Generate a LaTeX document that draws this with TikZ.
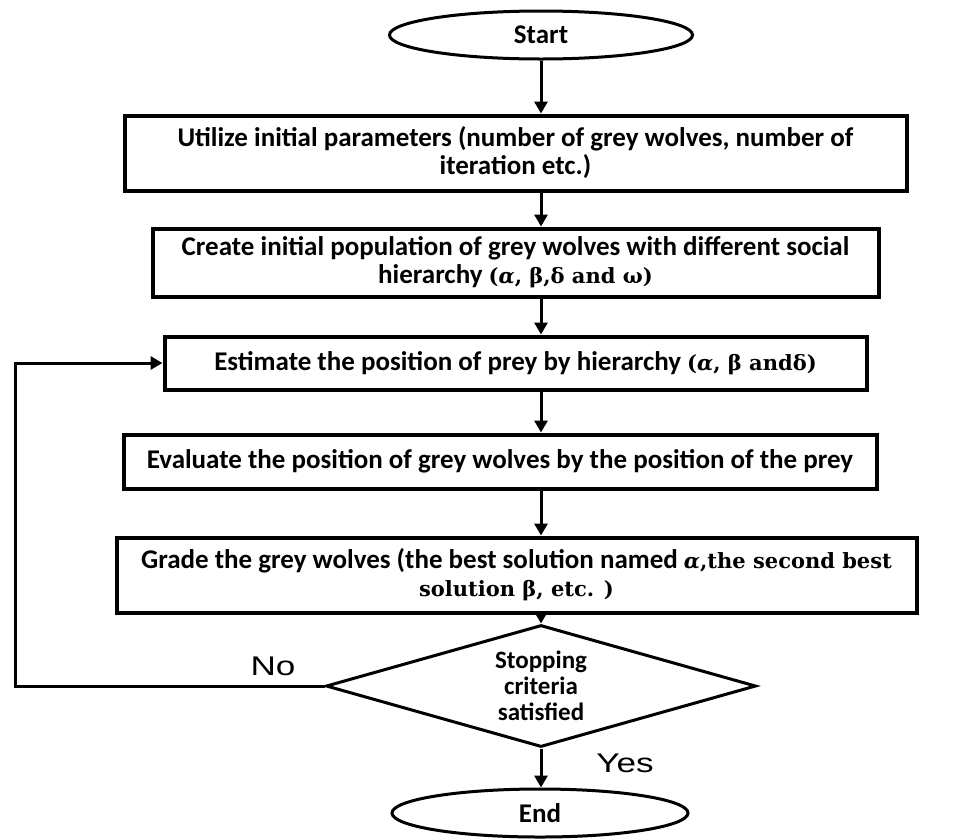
\documentclass[tikz,border=0pt]{standalone}
\usepackage{fontspec}
\setmainfont{Carlito}
\newfontfamily\srf{DejaVu Serif}
\newfontfamily\lab{Liberation Sans}
\usetikzlibrary{arrows.meta,shapes.geometric}
\newcommand{\sfr}{\srf\fontsize{21}{28}\selectfont}
\begin{document}
\begin{tikzpicture}[x=1pt,y=-1pt,
  every node/.style={font=\fontsize{27}{28}\selectfont\bfseries, align=center, inner sep=0pt},
  stepbox/.style={draw, line width=4pt, rectangle},
  term/.style={draw, line width=3pt, ellipse},
  decide/.style={draw, line width=3pt, diamond},
  arr/.style={line width=3pt, -{Triangle[width=13pt,length=12pt]}},
  lbl/.style={font=\fontsize{27}{28}\selectfont\lab\mdseries}]
\useasboundingbox (0,0) rectangle (963,839);
\node[term, minimum width=303pt, minimum height=48pt] (start) at (541,35) {Start};
\node[stepbox, minimum width=782pt, minimum height=75pt] (b1) at (515.5,153)
  {Utilize initial parameters (number of grey wolves, number of\\iteration etc.)};
\node[stepbox, minimum width=726pt, minimum height=68pt] (b2) at (515.5,262.5)
  {Create initial population of grey wolves with different social\\hierarchy {\sfr(\textit{α}, β,δ and ω)}};
\node[stepbox, minimum width=702pt, minimum height=53pt] (b3) at (515.5,363)
  {Estimate the position of prey by hierarchy {\sfr(\textit{α}, β andδ)}};
\node[stepbox, minimum width=753pt, minimum height=54pt] (b4) at (500,461.5)
  {Evaluate the position of grey wolves by the position of the prey};
\node[stepbox, minimum width=800pt, minimum height=75pt] (b5) at (516.5,575)
  {Grade the grey wolves (the best solution named {\sfr\textit{α},the second best}\\{\sfr solution β, etc. )}};
\node[decide, minimum width=430pt, minimum height=122pt, aspect=3.5, font=\fontsize{25}{26}\selectfont\bfseries] (dia) at (541,686)
  {Stopping\\criteria\\satisfied};
\node[term, minimum width=296pt, minimum height=48pt] (end) at (540,813) {End};
\coordinate (lp) at (15,686);
\node[lbl] (no) at (273,666) {\scalebox{1.3}[1]{No}};
\node[lbl] (yes) at (625,763) {\scalebox{1.3}[1]{Yes}};
\draw[arr] (start.south) -- (start.south |- b1.north);
\draw[arr] (b1.south -| start) -- (b2.north -| start);
\draw[arr] (b2.south -| start) -- (b3.north -| start);
\draw[arr] (b3.south -| start) -- (b4.north -| start);
\draw[arr] (b4.south -| start) -- (b5.north -| start);
\draw[arr] (b5.south -| dia) -- (dia.north);
\draw[arr] (dia.south) -- (dia.south |- end.north);
\draw[arr] (dia.west) -- (lp) |- (b3.west);
\end{tikzpicture}
\end{document}
